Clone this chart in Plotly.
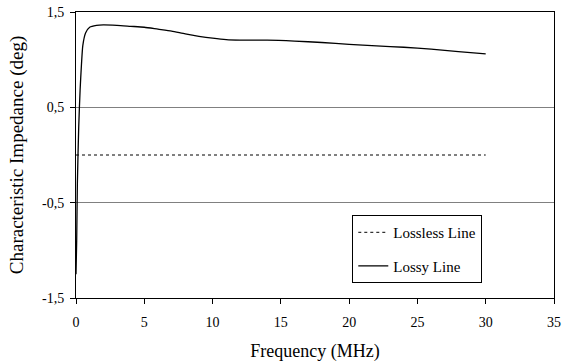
import plotly.graph_objects as go

freq_lossy = [0, 0.05, 0.1, 0.2, 0.3, 0.4, 0.5, 0.7, 1.0, 1.5, 2, 3, 4, 5, 6, 7, 8, 9, 10, 11, 12, 14, 16, 18, 20, 22, 24, 26, 28, 30]
lossy = [-1.25, -0.9, -0.3, 0.3, 0.68, 0.95, 1.15, 1.28, 1.34, 1.36, 1.365, 1.36, 1.35, 1.34, 1.32, 1.30, 1.27, 1.245, 1.225, 1.21, 1.205, 1.205, 1.195, 1.18, 1.16, 1.145, 1.13, 1.11, 1.085, 1.06]
freq_lossless = [0, 30]
lossless = [0, 0]
y_tickvals = [-1.5, -0.5, 0.5, 1.5]
y_ticktext = ["-1,5", "-0,5", "0,5", "1,5"]
x_tickvals = [0, 5, 10, 15, 20, 25, 30, 35]

FONT = "Liberation Serif"

fig = go.Figure()
fig.add_trace(go.Scatter(x=freq_lossless, y=lossless, mode="lines", name="Lossless Line",
                         line=dict(color="black", width=1, dash="dot"), legendgroup="a"))
fig.add_trace(go.Scatter(x=freq_lossy, y=lossy, mode="lines", name="Lossy Line",
                         line=dict(color="black", width=1.3, shape="spline", smoothing=0.6), legendgroup="b"))

fig.update_layout(
    width=562, height=362,
    margin=dict(l=76, r=8, t=12, b=64, autoexpand=False),
    paper_bgcolor="white", plot_bgcolor="white",
    font=dict(family=FONT, size=14, color="black"),
    showlegend=True,
    legend=dict(x=0.578, y=0.29, xanchor="left", yanchor="top",
                bordercolor="black", borderwidth=1, bgcolor="white",
                itemwidth=30, tracegroupgap=11, font=dict(size=15)),
    xaxis=dict(range=[0, 35], tickvals=x_tickvals, showgrid=False, zeroline=False,
               showline=True, linecolor="black", linewidth=1, mirror=True,
               ticks="outside", ticklen=5, tickcolor="black", automargin=False,
               ticklabelstandoff=6, tickfont=dict(size=14),
               title=dict(text="Frequency (MHz)", font=dict(size=18), standoff=16)),
    yaxis=dict(range=[-1.5, 1.5], tickvals=y_tickvals, ticktext=y_ticktext,
               showgrid=True, gridcolor="#808080", gridwidth=1, zeroline=False,
               showline=True, linecolor="black", linewidth=1, mirror=True,
               ticks="outside", ticklen=5, tickcolor="black", automargin=False,
               ticklabelstandoff=3, tickfont=dict(size=14),
               title=dict(text="Characteristic Impedance (deg)", font=dict(size=19), standoff=13)),
)

post = (
    "document.body.style.margin='0';"
    "var st=document.createElement('style');"
    "st.textContent='.js-plotly-plot .main-svg text, .js-plotly-plot .main-svg tspan "
    "{font-family: \"Liberation Serif\", \"Times New Roman\", serif !important;}';"
    "document.head.appendChild(st);"
)

fig.write_html("out.html", config={"displayModeBar": False}, post_script=post)
